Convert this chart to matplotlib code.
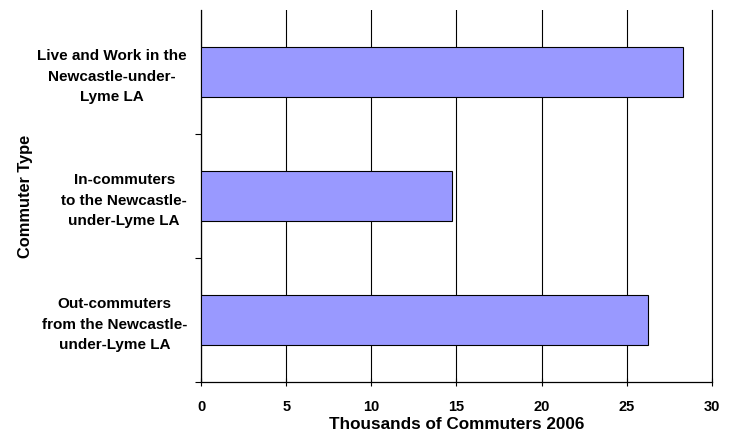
import numpy as np
import matplotlib
matplotlib.use("Agg")
import matplotlib.pyplot as plt

plt.rcParams['font.family'] = ['Liberation Sans', 'DejaVu Sans']
plt.rcParams['font.weight'] = 'bold'

# data (bottom to top)
categories = [
    "Out-commuters\nfrom the Newcastle-\nunder-Lyme LA",
    "In-commuters\nto the Newcastle-\nunder-Lyme LA",
    "Live and Work in the\nNewcastle-under-\nLyme LA",
]
commuters = [26.25, 14.75, 28.3]
x_ticks = [0, 5, 10, 15, 20, 25, 30]

fig = plt.figure(figsize=(7.31, 4.34), dpi=100)
ax = fig.add_axes([201 / 731, 1 - 382 / 434, 511 / 731, 372 / 434])

ypos = np.arange(len(categories))
ax.barh(ypos, commuters, height=0.4, color='#9999FF', edgecolor='black',
        linewidth=0.8, zorder=3)

ax.set_xlim(0, 30)
ax.set_ylim(-0.5, len(categories) - 0.5)
ax.set_xticks(x_ticks)
ax.set_xticklabels([str(t) for t in x_ticks], fontsize=10.5, fontweight='bold')
ax.set_yticks(ypos)
ax.set_yticklabels(categories, fontsize=11, fontweight='bold',
                   multialignment='center', linespacing=1.55)
# category separators (no tick at the very top)
ax.set_yticks(np.arange(len(categories)) - 0.5, minor=True)
ax.tick_params(axis='y', which='major', length=0, pad=10)
ax.tick_params(axis='y', which='minor', length=4, width=0.8, direction='out')
ax.tick_params(axis='x', length=6, width=0.8, direction='inout', pad=10)

ax.grid(axis='x', color='black', linewidth=0.8, zorder=0)
ax.set_axisbelow(True)
ax.spines['top'].set_visible(False)
ax.spines['right'].set_linewidth(0.8)
for s in ['left', 'bottom']:
    ax.spines[s].set_linewidth(0.9)

ax.set_xlabel("Thousands of Commuters 2006", fontsize=12.3, fontweight='bold',
              labelpad=2)
ax.set_ylabel("Commuter Type", fontsize=11.8, fontweight='bold', labelpad=3)

plt.savefig("out.png", dpi=100)
plt.close()
